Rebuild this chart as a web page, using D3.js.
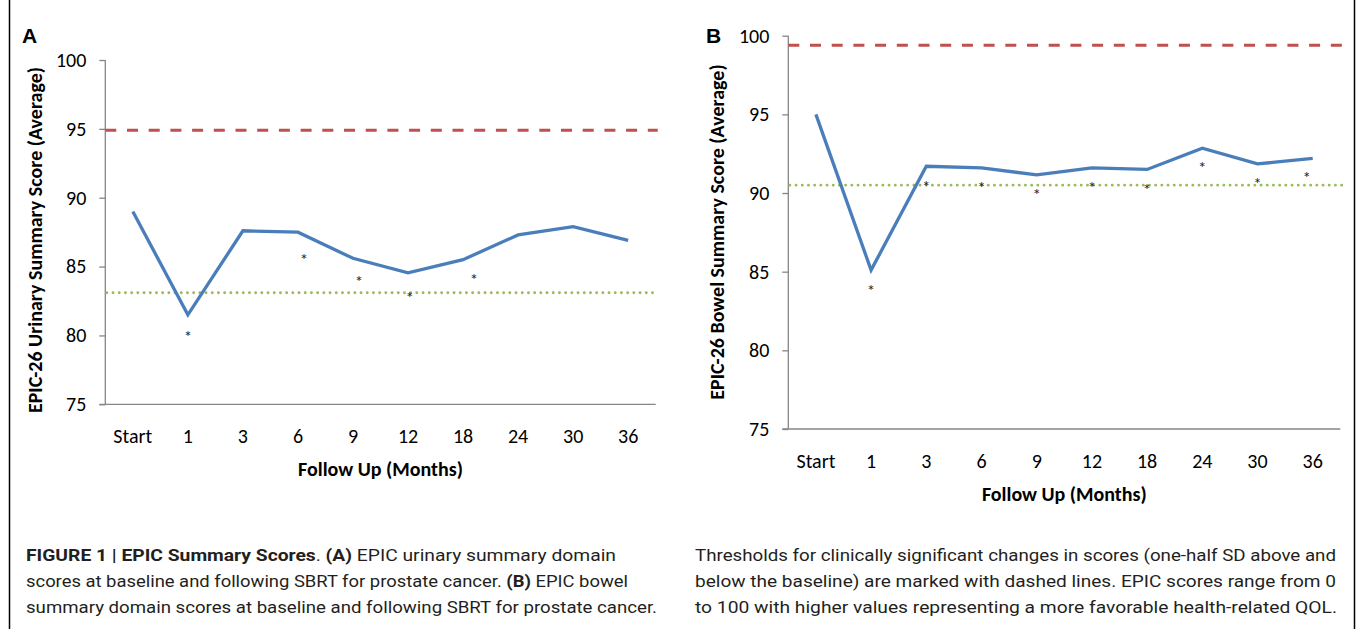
<!DOCTYPE html>
<html>
<head>
<meta charset="utf-8">
<script src="https://cdn.jsdelivr.net/npm/d3@7"></script>
<style>
  html, body { margin: 0; padding: 0; background: #fff; }
  svg { display: block; }
  .tick-label { font-family: Carlito, Lato, sans-serif; font-size: 20px; fill: #000; }
  .axis-title { font-family: Carlito, Lato, sans-serif; font-size: 20px; font-weight: bold; fill: #000; }
  .panel-label { font-family: "Liberation Sans", Arial, sans-serif; font-size: 21px; font-weight: bold; fill: #000; }
  .caption { font-family: "Liberation Sans Narrow", "Roboto", sans-serif; font-size: 16px; fill: #231f20; }
  .star { font-family: Carlito, Lato, sans-serif; font-size: 17px; fill: #222; }
</style>
</head>
<body>
<svg id="chart" width="1357" height="629"></svg>
<script>
// follow-up visits (months)
var categories = ['Start', '1', '3', '6', '9', '12', '18', '24', '30', '36'];
var yTicks = [75, 80, 85, 90, 95, 100];

// panel A - urinary summary score
var urinaryScores = [89.0, 81.5, 87.6, 87.5, 85.6, 84.55, 85.5, 87.3, 87.9, 86.9];
var urinaryThresholds = { upper: 94.9, lower: 83.1 };
var urinaryStars = [
  { cat: '1', value: 80.2, shift: 0 },
  { cat: '6', value: 85.8, shift: 0.11 },
  { cat: '9', value: 84.15, shift: 0.11 },
  { cat: '12', value: 83.0, shift: 0.03 },
  { cat: '18', value: 84.35, shift: 0.2 }
];

// panel B - bowel summary score
var bowelScores = [95.0, 85.1, 91.7, 91.6, 91.15, 91.6, 91.5, 92.85, 91.85, 92.2];
var bowelThresholds = { upper: 99.4, lower: 90.5 };
var bowelStars = [
  { cat: '1', value: 84.05, shift: 0 },
  { cat: '3', value: 90.65, shift: 0 },
  { cat: '6', value: 90.6, shift: 0 },
  { cat: '9', value: 90.15, shift: 0 },
  { cat: '12', value: 90.6, shift: 0 },
  { cat: '18', value: 90.45, shift: 0 },
  { cat: '24', value: 91.85, shift: 0 },
  { cat: '30', value: 90.8, shift: 0 },
  { cat: '36', value: 91.2, shift: -0.11 }
];

var captionLeft = [
  [['FIGURE 1 | EPIC Summary Scores', true], ['. ', false], ['(A)', true], [' EPIC urinary summary domain', false]],
  [['scores at baseline and following SBRT for prostate cancer. ', false], ['(B)', true], [' EPIC bowel', false]],
  [['summary domain scores at baseline and following SBRT for prostate cancer.', false]]
];
var captionRight = [
  'Thresholds for clinically significant changes in scores (one-half SD above and',
  'below the baseline) are marked with dashed lines. EPIC scores range from 0',
  'to 100 with higher values representing a more favorable health-related QOL.'
];

var svg = d3.select('#chart');

// outer frame (left and right rules)
svg.append('line').attr('x1', 9.5).attr('x2', 9.5).attr('y1', 0).attr('y2', 629)
  .attr('stroke', '#000').attr('stroke-width', 1.5);
svg.append('line').attr('x1', 1354.5).attr('x2', 1354.5).attr('y1', 0).attr('y2', 629)
  .attr('stroke', '#000').attr('stroke-width', 1.5);

function drawPanel(opts) {
  var x = d3.scaleBand().domain(categories).range([opts.left, opts.right]);
  var y = d3.scaleLinear().domain([75, 100]).range([opts.bottom, opts.top]);
  var g = svg.append('g');
  var axisColor = '#868686';

  // y axis
  var yAxis = g.append('g')
    .attr('transform', 'translate(' + opts.left + ',0)')
    .call(d3.axisLeft(y).tickValues(yTicks).tickSize(6).tickPadding(13).tickFormat(d3.format('d')));
  yAxis.select('.domain').attr('stroke', axisColor).attr('stroke-width', 1.3).attr('d', 'M0,' + opts.top + 'V' + opts.bottom);
  yAxis.selectAll('.tick line').attr('stroke', axisColor).attr('stroke-width', 1.3);
  yAxis.selectAll('.tick text').attr('class', 'tick-label').attr('fill', null);
  yAxis.attr('font-size', null).attr('font-family', null);

  // x axis
  var xAxis = g.append('g')
    .attr('transform', 'translate(0,' + opts.bottom + ')')
    .call(d3.axisBottom(x).tickSize(0).tickPadding(24.5));
  xAxis.select('.domain').attr('stroke', axisColor).attr('stroke-width', 1.3)
    .attr('d', 'M' + (opts.left - 6) + ',0H' + opts.right);
  xAxis.selectAll('.tick text').attr('class', 'tick-label').attr('fill', null);
  xAxis.attr('font-size', null).attr('font-family', null);

  // thresholds
  g.append('line')
    .attr('x1', opts.left).attr('x2', opts.right + 2)
    .attr('y1', y(opts.thresholds.upper)).attr('y2', y(opts.thresholds.upper))
    .attr('stroke', '#c0504d').attr('stroke-width', 3)
    .attr('stroke-dasharray', '11,10.7');
  g.append('line')
    .attr('x1', opts.left + 1.5).attr('x2', opts.right + 2)
    .attr('y1', y(opts.thresholds.lower)).attr('y2', y(opts.thresholds.lower))
    .attr('stroke', '#9bbb59').attr('stroke-width', 2.8)
    .attr('stroke-linecap', 'round')
    .attr('stroke-dasharray', '0.1,6.1');

  // score line
  var line = d3.line()
    .x(function(d, i) { return x(categories[i]) + x.bandwidth() / 2; })
    .y(function(d) { return y(d); });
  g.append('path')
    .datum(opts.scores)
    .attr('d', line)
    .attr('fill', 'none')
    .attr('stroke', '#4a7ebb')
    .attr('stroke-width', 3.3)
    .attr('stroke-linejoin', 'miter');

  // significance markers
  g.selectAll('text.star').data(opts.stars).enter()
    .append('text')
    .attr('class', 'star')
    .attr('text-anchor', 'middle')
    .attr('x', function(d) { return x(d.cat) + x.bandwidth() * (0.5 + d.shift); })
    .attr('y', function(d) { return y(d.value) + 9; })
    .text('*');

  // titles
  g.append('text').attr('class', 'axis-title')
    .attr('text-anchor', 'middle')
    .attr('x', (opts.left + opts.right) / 2)
    .attr('y', opts.bottom + 72)
    .text('Follow Up (Months)');
  g.append('text').attr('class', 'axis-title')
    .attr('text-anchor', 'middle')
    .attr('transform', 'translate(' + opts.titleX + ',' + opts.titleY + ') rotate(-90)')
    .text(opts.yTitle);
  g.append('text').attr('class', 'panel-label')
    .attr('x', opts.labelX).attr('y', 43)
    .text(opts.label);
}

drawPanel({
  left: 105.3, right: 655.7, top: 60, bottom: 404.3,
  scores: urinaryScores, thresholds: urinaryThresholds, stars: urinaryStars,
  yTitle: 'EPIC-26 Urinary Summary Score (Average)', titleX: 41.5, titleY: 240,
  label: 'A', labelX: 22
});
drawPanel({
  left: 788.3, right: 1340.3, top: 35.7, bottom: 429,
  scores: bowelScores, thresholds: bowelThresholds, stars: bowelStars,
  yTitle: 'EPIC-26 Bowel Summary Score (Average)', titleX: 723.5, titleY: 232,
  label: 'B', labelX: 706
});

// caption
var leftWidths = [590, 602, 631];
var rightWidths = [641, 641, 642];
var baselines = [561, 587, 613];

captionLeft.forEach(function(parts, i) {
  var t = svg.append('text').attr('class', 'caption')
    .attr('x', 26).attr('y', baselines[i])
    .attr('textLength', leftWidths[i]).attr('lengthAdjust', 'spacingAndGlyphs');
  parts.forEach(function(p) {
    t.append('tspan').attr('font-weight', p[1] ? 'bold' : 'normal').text(p[0]);
  });
});
captionRight.forEach(function(s, i) {
  svg.append('text').attr('class', 'caption')
    .attr('x', 695).attr('y', baselines[i])
    .attr('textLength', rightWidths[i]).attr('lengthAdjust', 'spacingAndGlyphs')
    .text(s);
});
</script>
</body>
</html>
